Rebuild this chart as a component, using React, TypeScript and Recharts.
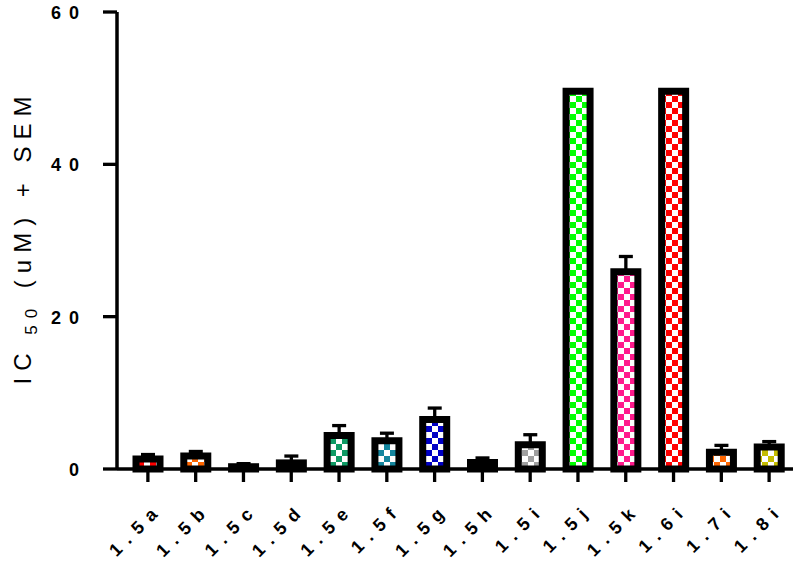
import React from "react";
import { Bar, BarChart, Cell, ErrorBar, XAxis, YAxis } from "recharts";

// IC50 per compound (uM) with +SEM
const compounds = [
  "1.5a", "1.5b", "1.5c", "1.5d", "1.5e", "1.5f", "1.5g",
  "1.5h", "1.5i", "1.5j", "1.5k", "1.6i", "1.7i", "1.8i",
];
const ic50 = [1.3, 1.7, 0.3, 0.8, 4.4, 3.7, 6.5, 0.85, 3.2, 49.6, 25.9, 49.6, 2.2, 2.9];
const sem = [0.6, 0.6, 0.4, 0.9, 1.3, 1.0, 1.5, 0.6, 1.3, 0, 2.0, 0, 0.9, 0.7];
const checkColors = [
  "#ff0000", "#ff6600", "#e0c000", "#202020", "#0e9a64", "#15869e", "#0000c4",
  "#800080", "#a0a0a0", "#00ff00", "#ff1a8c", "#ff0000", "#ff6600", "#c4bc00",
];
const yTicks = [0, 20, 40, 60];

const data = compounds.map((name, i) => ({
  name,
  ic50: ic50[i],
  err: [0, sem[i]],
}));

const FONT = "'Liberation Sans', Arial, sans-serif";

function YTick({ x, y, payload }: any) {
  return (
    <text
      x={x - 14}
      y={y}
      dy={7}
      textAnchor="end"
      fontFamily={FONT}
      fontWeight="bold"
      fontSize={18}
      letterSpacing={8}
      fill="#000"
    >
      {payload.value}
    </text>
  );
}

function XTick({ x, y, payload }: any) {
  return (
    <text
      transform={`translate(${x + 16},${y + 26}) rotate(-45)`}
      textAnchor="end"
      fontFamily={FONT}
      fontWeight="bold"
      fontSize={18}
      letterSpacing={8}
      fill="#000"
    >
      {payload.value}
    </text>
  );
}

function YTitle() {
  return (
    <text
      transform="translate(31,237) rotate(-90)"
      textAnchor="middle"
      fontFamily={FONT}
      fontSize={24}
      letterSpacing={7}
      fill="#000"
    >
      IC
      <tspan fontSize={17} dy={6}>
        {" 50"}
      </tspan>
      <tspan dy={-6}>{" (uM) + SEM"}</tspan>
    </text>
  );
}

export default function App() {
  return (
    <div style={{ position: "absolute", left: 0, top: 0 }}>
      <BarChart
        width={794}
        height={568}
        data={data}
        margin={{ top: 12, right: 1, left: 0, bottom: 0 }}
        barCategoryGap={0}
      >
        <defs>
          {checkColors.map((c, i) => (
            <pattern
              key={i}
              id={`chk-${i}`}
              width={12}
              height={12}
              patternUnits="userSpaceOnUse"
            >
              <rect width={12} height={12} fill="#fff" />
              <rect width={6} height={6} fill={c} />
              <rect x={6} y={6} width={6} height={6} fill={c} />
            </pattern>
          ))}
        </defs>
        <XAxis
          dataKey="name"
          height={99}
          padding={{ left: 7, right: 0 }}
          tickSize={13}
          axisLine={{ stroke: "#000", strokeWidth: 3.5 }}
          tickLine={{ stroke: "#000", strokeWidth: 3.3 }}
          tick={<XTick />}
          interval={0}
        />
        <YAxis
          width={117}
          domain={[0, 60]}
          ticks={yTicks}
          tickSize={14}
          axisLine={{ stroke: "#000", strokeWidth: 3.5 }}
          tickLine={{ stroke: "#000", strokeWidth: 3.3 }}
          tick={<YTick />}
          label={{ content: () => <YTitle /> }}
        />
        <Bar
          dataKey="ic50"
          barSize={24}
          stroke="#000"
          strokeWidth={7}
          isAnimationActive={false}
        >
          {data.map((_, i) => (
            <Cell key={i} fill={`url(#chk-${i})`} />
          ))}
          <ErrorBar
            dataKey="err"
            direction="y"
            width={7}
            stroke="#000"
            strokeWidth={3.3}
            isAnimationActive={false}
          />
        </Bar>
      </BarChart>
    </div>
  );
}
